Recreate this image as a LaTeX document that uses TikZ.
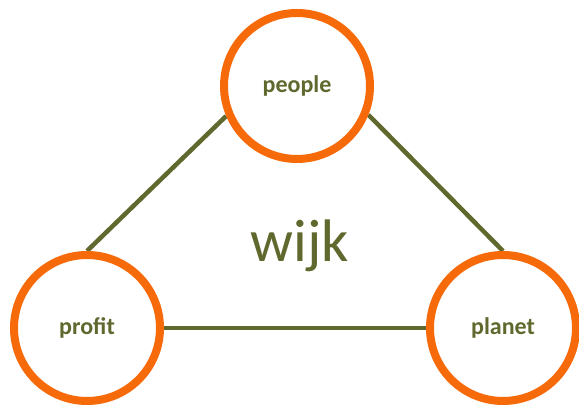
\documentclass[tikz,border=0pt]{standalone}
\usepackage{fontspec}
\setmainfont{Carlito}
\usetikzlibrary{backgrounds}
\definecolor{ring}{RGB}{247,106,10}
\definecolor{olive}{RGB}{96,104,46}
\begin{document}
\begin{tikzpicture}[x=1pt,y=1pt,
  ring/.style={circle,draw=ring,line width=8pt,fill=white,minimum size=146pt,inner sep=0pt,
    font=\bfseries\fontsize{24}{28}\selectfont,text=olive},
  link/.style={draw=olive,line width=4.5pt}]
\useasboundingbox (0,0) rectangle (579,406);
\node[ring] (people) at (297,320) {people};
\node[ring] (profit) at (87,78) {profit};
\node[ring] (planet) at (503,78) {planet};
\node[text=olive,font=\fontsize{60}{64}\selectfont] (wijk) at (300,160) {wijk};
\begin{scope}[on background layer]
\fill[white] (0,0) rectangle (579,406);
\draw[link] (people.203) -- (profit.north);
\draw[link] (people.-22) -- (planet.north);
\draw[link] (profit.east) -- (planet.west);
\end{scope}
\end{tikzpicture}
\end{document}
